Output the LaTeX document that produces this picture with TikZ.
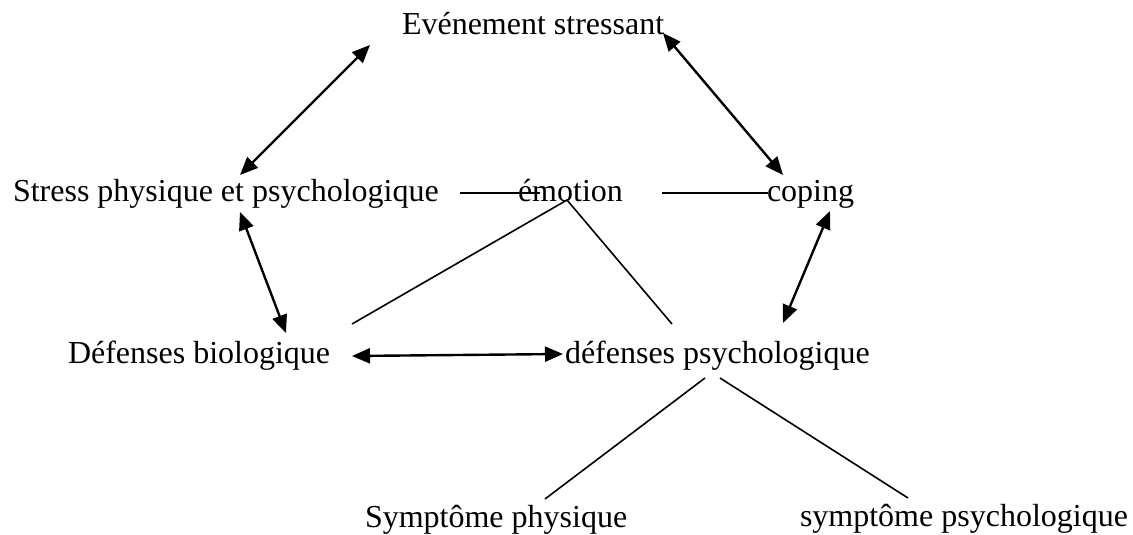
\documentclass[tikz,border=0pt]{standalone}
\usepackage{fontspec}
\setmainfont{Liberation Serif}
\usetikzlibrary{arrows.meta}
\begin{document}
\begin{tikzpicture}[x=1pt, y=-1pt,
  lbl/.style={anchor=base west, inner sep=0pt, outer sep=0pt,
              font=\fontsize{32}{38}\selectfont},
  twoway/.style={line width=2.4pt, {Triangle[length=18pt,width=15pt]}-{Triangle[length=18pt,width=15pt]}},
  link/.style={line width=1.6pt}]
  \useasboundingbox (0,0) rectangle (1133,535);

  % concepts
  \node[lbl] (evt)     at (402,35)  {Evénement stressant};
  \node[lbl] (stress)  at (13,201)  {Stress physique et psychologique};
  \node[lbl] (emo)     at (518,201) {émotion};
  \node[lbl] (coping)  at (767,201) {coping};
  \node[lbl] (defbio)  at (68,363)  {Défenses biologique};
  \node[lbl] (defpsy)  at (565,363) {défenses psychologique};
  \node[lbl] (symphys) at (365,527) {Symptôme physique};
  \node[lbl] (sympsy)  at (800,526) {symptôme psychologique};

  % two-way influences
  \draw[twoway] ([shift={(227,-26)}]stress.base west) -- ([shift={(-32,10)}]evt.base west);
  \draw[twoway] ([shift={(261,-2)}]evt.base west) -- ([shift={(16,-26)}]coping.base west);
  \draw[twoway] ([shift={(227,11)}]stress.base west) -- ([shift={(218,-30)}]defbio.base west);
  \draw[twoway] ([shift={(63,10)}]coping.base west) -- ([shift={(218,-40)}]defpsy.base west);
  \draw[twoway] ([shift={(284,-7)}]defbio.base west) -- ([shift={(-2,-9)}]defpsy.base west);

  % plain links
  \draw[link] ([shift={(447,-8)}]stress.base west) -- ([shift={(22,-8)}]emo.base west);
  \draw[link] ([shift={(144,-8)}]emo.base west) -- ([shift={(1,-8)}]coping.base west);
  \draw[link] ([shift={(284,-39)}]defbio.base west) -- ([shift={(49,-1)}]emo.base west)
              -- ([shift={(107,-39)}]defpsy.base west);
  \draw[link] ([shift={(140,15)}]defpsy.base west) -- ([shift={(180,-28)}]symphys.base west);
  \draw[link] ([shift={(155,15)}]defpsy.base west) -- ([shift={(108,-28)}]sympsy.base west);
\end{tikzpicture}
\end{document}
